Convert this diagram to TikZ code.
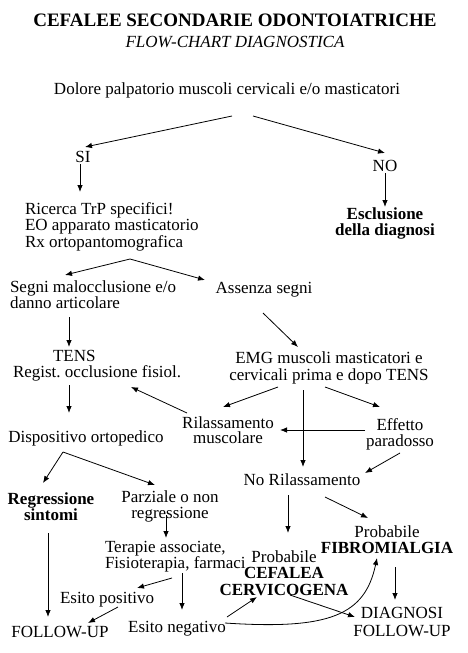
\documentclass[tikz,border=0pt]{standalone}
\usepackage{fontspec}
\setmainfont{Liberation Serif}
\usetikzlibrary{arrows.meta}
\frenchspacing
\begin{document}
\begin{tikzpicture}[x=1pt,y=-1pt,
  every node/.style={inner sep=0pt,outer sep=0pt,font=\fontsize{17pt}{16.5pt}\selectfont},
  txt/.style={anchor=base,align=center},
  txtl/.style={anchor=base west,align=left},
  arr/.style={draw=black,line width=0.8pt,-{Latex[length=7pt,width=5.5pt]}}]
\useasboundingbox[fill=white] (0,0) rectangle (467,653);
\node[txt,font=\fontsize{19pt}{20pt}\selectfont\bfseries] (title) at (235,27) {CEFALEE SECONDARIE ODONTOIATRICHE};
\node[txt,font=\fontsize{17pt}{17pt}\selectfont\itshape] (sub) at (235,47) {FLOW-CHART DIAGNOSTICA};
\node[txt] (dolore) at (227,94) {Dolore palpatorio muscoli cervicali e/o masticatori};
\node[txt] (si) at (83,162.5) {SI};
\node[txt] (no) at (385,171) {NO};
\node[txtl] (ricerca) at (25,247) {Ricerca TrP specifici!\\EO apparato masticatorio\\Rx ortopantomografica};
\node[txt,font=\fontsize{17pt}{16.5pt}\selectfont\bfseries] (escl) at (385,235.5) {Esclusione\\della diagnosi};
\node[txtl] (segni) at (10,308.5) {Segni malocclusione e/o\\danno articolare};
\node[txt] (assenza) at (264,293) {Assenza segni};
\node[txtl,font=\fontsize{17pt}{16pt}\selectfont] (tens) at (13,377) {\hspace*{40pt}TENS\\Regist. occlusione fisiol.};
\node[txt,font=\fontsize{17pt}{17pt}\selectfont] (emg) at (329,380) {EMG muscoli masticatori e\\cervicali prima e dopo TENS};
\node[txt] (disp) at (86,442) {Dispositivo ortopedico};
\node[txt,font=\fontsize{17pt}{15.5pt}\selectfont] (rilas) at (228,443.5) {Rilassamento\\muscolare};
\node[txt] (effetto) at (400,446.5) {Effetto\\paradosso};
\node[txt] (norilas) at (302,485) {No Rilassamento};
\node[txt,font=\fontsize{17pt}{16pt}\selectfont\bfseries] (regr) at (51,520) {Regressione\\sintomi};
\node[txt,font=\fontsize{17pt}{16pt}\selectfont] (parz) at (170,518) {Parziale o non\\regressione};
\node[txt] (fu1) at (60,637.5) {FOLLOW-UP};
\node[txtl] (terap) at (105,568.5) {Terapie associate,\\Fisioterapia, farmaci};
\node[txt] (espos) at (107,603) {Esito positivo};
\node[txt] (esneg) at (177,632) {Esito negativo};
\node[txt,font=\fontsize{17pt}{16pt}\selectfont] (fibro) at (387,553) {Probabile\\\textbf{FIBROMIALGIA}};
\node[txt,font=\fontsize{17pt}{16.75pt}\selectfont] (cef) at (284,595.5) {Probabile\\\textbf{CEFALEA}\\\textbf{CERVICOGENA}};
\node[txt,font=\fontsize{17pt}{18pt}\selectfont] (diag) at (402,636.5) {DIAGNOSI\\FOLLOW-UP};

\draw[arr] ([shift={(5,22)}]dolore.base) -- ([shift={(2,-15.5)}]si.base);
\draw[arr] ([shift={(26,22)}]dolore.base) -- ([shift={(0,-18)}]no.base);
\draw[arr] ([shift={(-3,1.5)}]si.base) -- ([shift={(55,-55)}]ricerca.base west);
\draw[arr] ([shift={(0,2)}]no.base) -- ([shift={(0,-28.5)}]escl.base);
\draw[arr] ([shift={(105,12)}]ricerca.base west) -- ([shift={(55,-33.5)}]segni.base west);
\draw[arr] ([shift={(105,12)}]ricerca.base west) -- ([shift={(-59,-13)}]assenza.base);
\draw[arr] ([shift={(59,8.5)}]segni.base west) -- ([shift={(56,-30)}]tens.base west);
\draw[arr] ([shift={(-1,20)}]assenza.base) -- ([shift={(-31,-33)}]emg.base);
\draw[arr] ([shift={(56,8)}]tens.base west) -- ([shift={(-17,-29)}]disp.base);
\draw[arr] ([shift={(-51,7)}]emg.base) -- ([shift={(-5,-36.5)}]rilas.base);
\draw[arr] ([shift={(-4,7)}]emg.base) -- ([shift={(-20,-39.5)}]effetto.base);
\draw[arr] ([shift={(-26,10)}]emg.base) -- ([shift={(1,-18)}]norilas.base);
\draw[arr] ([shift={(-41,-30.5)}]rilas.base) -- ([shift={(118,10)}]tens.base west);
\draw[arr] ([shift={(-35,-16.5)}]effetto.base) -- ([shift={(52,-13.5)}]rilas.base);
\draw[arr] ([shift={(0,6.5)}]effetto.base) -- ([shift={(63,-12)}]norilas.base);
\draw[arr] ([shift={(-23,10)}]disp.base) -- ([shift={(-8,-37)}]regr.base);
\draw[arr] ([shift={(-23,10)}]disp.base) -- ([shift={(-15,-33)}]parz.base);
\draw[arr] ([shift={(-3,13)}]regr.base) -- ([shift={(-12,-20.5)}]fu1.base);
\draw[arr] ([shift={(-4,-3)}]parz.base) -- ([shift={(61,-30.5)}]terap.base west);
\draw[arr] ([shift={(67,9.5)}]terap.base west) -- ([shift={(30,-15)}]espos.base);
\draw[arr] ([shift={(77,4.5)}]terap.base west) -- ([shift={(5,-22)}]esneg.base);
\draw[arr] ([shift={(11,4)}]espos.base) -- ([shift={(28,-14.5)}]fu1.base);
\draw[arr] ([shift={(50,-15)}]esneg.base) -- ([shift={(-27,1.5)}]cef.base);
\draw[arr] ([shift={(48,-9)}]esneg.base) .. controls ([shift={(153,-2)}]esneg.base) and ([shift={(188,-17)}]esneg.base) .. ([shift={(-10,5)}]fibro.base);
\draw[arr] ([shift={(-14,10)}]norilas.base) -- ([shift={(4,-62.5)}]cef.base);
\draw[arr] ([shift={(23,12)}]norilas.base) -- ([shift={(-19,-35)}]fibro.base);
\draw[arr] ([shift={(8,14)}]fibro.base) -- ([shift={(-7,-36.5)}]diag.base);
\draw[arr] ([shift={(6,-0.5)}]cef.base) -- ([shift={(-47,-19.5)}]diag.base);
\end{tikzpicture}
\end{document}
